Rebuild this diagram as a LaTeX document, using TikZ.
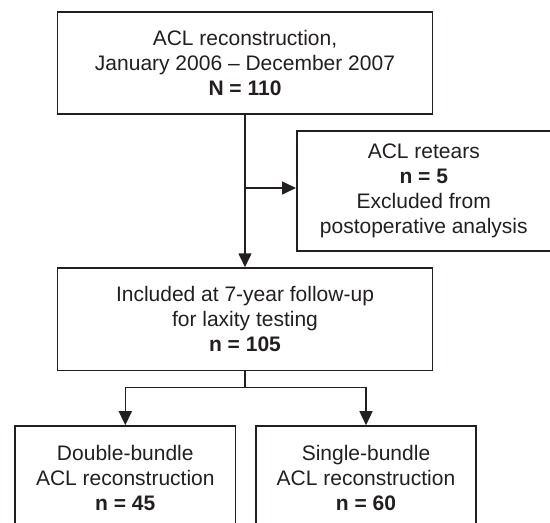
\documentclass[tikz,border=0pt]{standalone}
\usepackage{fontspec}
\setmainfont{Liberation Sans}
\usetikzlibrary{arrows.meta,calc}
\definecolor{ink}{RGB}{35,31,32}
\begin{document}
\begin{tikzpicture}[x=1pt,y=-1pt,
  box/.style={draw=ink,line width=1.6pt,inner sep=0pt,align=center,
    font=\fontsize{21}{25}\selectfont,text=ink},
  conn/.style={draw=ink,line width=1.6pt},
  arr/.style={conn,-{Triangle[length=14pt,width=13pt]}}]
\useasboundingbox[fill=white] (0,0) rectangle (550,523);
\node[box,minimum width=375pt,minimum height=102pt] (top) at (245,63)
  {ACL reconstruction,\\January 2006 -- December 2007\\\textbf{N = 110}};
\node[box,minimum width=254pt,minimum height=119.5pt] (ret) at (423.8,191)
  {ACL retears\\\textbf{n = 5}\\Excluded from\\postoperative analysis};
\node[box,minimum width=375pt,minimum height=102.5pt] (inc) at (245,319.3)
  {Included at 7-year follow-up\\for laxity testing\\\textbf{n = 105}};
\node[box,minimum width=220.7pt,minimum height=104pt] (db) at (125.3,478)
  {Double-bundle\\ACL reconstruction\\\textbf{n = 45}};
\node[box,minimum width=220.4pt,minimum height=104pt] (sb) at (366,478)
  {Single-bundle\\ACL reconstruction\\\textbf{n = 60}};
\coordinate (j) at (245,188);
\coordinate (b) at (245,387.3);
\draw[arr] (top.south) -- (inc.north);
\draw[arr] (j) -- (j -| ret.west);
\draw[conn] (inc.south) -- (b);
\draw[arr] (b) -| (db.north);
\draw[arr] (b) -| (sb.north);
\end{tikzpicture}
\end{document}
